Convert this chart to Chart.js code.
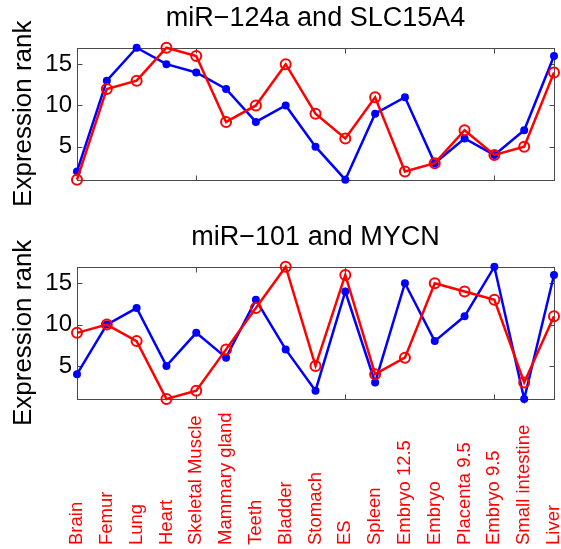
<!DOCTYPE html>
<html>
<head>
<meta charset="utf-8">
<script src="https://cdn.jsdelivr.net/npm/chart.js@4/dist/chart.umd.min.js"></script>
<style>
html, body { margin: 0; padding: 0; background: #fff; }
#wrap { position: relative; width: 561px; height: 549px; }
canvas { position: absolute; left: 0; }
</style>
</head>
<body>
<div id="wrap">
  <canvas id="topChart" width="561" height="219" style="top:0"></canvas>
  <canvas id="bottomChart" width="561" height="330" style="top:219px"></canvas>
</div>
<script>
// tissues along the x axis (positions 1..17)
const tissues = ['Brain', 'Femur', 'Lung', 'Heart', 'Skeletal Muscle', 'Mammary gland', 'Teeth',
    'Bladder', 'Stomach', 'ES', 'Spleen', 'Embryo 12.5', 'Embryo', 'Placenta 9.5', 'Embryo 9.5',
    'Small intestine', 'Liver'];

// expression ranks, blue = miRNA, red = target gene
const mir124aRank = [2, 13, 17, 15, 14, 12, 8, 10, 5, 1, 9, 11, 3, 6, 4, 7, 16];
const slc15a4Rank = [1, 12, 13, 17, 16, 8, 10, 15, 9, 6, 11, 2, 3, 7, 4, 5, 14];
const mir101Rank = [4, 10, 12, 5, 9, 6, 13, 7, 2, 14, 3, 15, 8, 11, 17, 1, 16];
const mycnRank = [9, 10, 8, 1, 2, 7, 12, 17, 5, 16, 4, 6, 15, 14, 13, 3, 11];

const yTicks = [5, 10, 15];
const xTicks = [5, 10, 15];

const FONT = '"Liberation Sans", Arial, Helvetica, sans-serif';
const BLUE = '#0000ff';
const RED = '#ff0000';

// matlab style box with inward ticks
const boxPlugin = {
    id: 'matlabBox',
    beforeDatasetsDraw(chart) {
        const {ctx, chartArea: a, scales: {x, y}} = chart;
        ctx.save();
        ctx.strokeStyle = '#4a4a4a';
        ctx.lineWidth = 1;
        const l = Math.round(a.left) + 0.5, r = Math.round(a.right) + 0.5;
        const t = Math.round(a.top) + 0.5, b = Math.round(a.bottom) + 0.5;
        ctx.strokeRect(l, t, r - l, b - t);
        ctx.beginPath();
        xTicks.forEach(v => {
            const px = Math.round(x.getPixelForValue(v)) + 0.5;
            ctx.moveTo(px, b); ctx.lineTo(px, b - 5);
            ctx.moveTo(px, t); ctx.lineTo(px, t + 5);
        });
        yTicks.forEach(v => {
            const py = Math.round(y.getPixelForValue(v)) + 0.5;
            ctx.moveTo(l, py); ctx.lineTo(l + 5, py);
            ctx.moveTo(r, py); ctx.lineTo(r - 5, py);
        });
        ctx.stroke();
        ctx.restore();
    }
};

// rotated red tissue names under the lower panel
const tissueLabels = {
    id: 'tissueLabels',
    afterDraw(chart) {
        const {ctx, scales: {x}} = chart;
        ctx.save();
        ctx.fillStyle = RED;
        ctx.font = '18.5px ' + FONT;
        ctx.textAlign = 'left';
        ctx.textBaseline = 'middle';
        tissues.forEach((name, i) => {
            ctx.save();
            ctx.translate(x.getPixelForValue(i + 1), chart.height - 4);
            ctx.rotate(-Math.PI / 2);
            ctx.fillText(name, 0, 0);
            ctx.restore();
        });
        ctx.restore();
    }
};

function rankChart(id, title, mirData, geneData, bottomPad, extra) {
    const toPoints = arr => arr.map((v, i) => ({x: i + 1, y: v}));
    return new Chart(document.getElementById(id), {
        type: 'line',
        data: {
            datasets: [
                {
                    label: 'gene',
                    data: toPoints(geneData),
                    borderColor: RED,
                    borderWidth: 2.5,
                    pointRadius: 5,
                    pointBorderWidth: 2,
                    pointBorderColor: RED,
                    pointBackgroundColor: 'rgba(0,0,0,0)',
                    tension: 0,
                    clip: false,
                    order: 0
                },
                {
                    label: 'miRNA',
                    data: toPoints(mirData),
                    borderColor: BLUE,
                    borderWidth: 2.5,
                    pointRadius: 4,
                    pointBorderWidth: 0,
                    pointBackgroundColor: BLUE,
                    tension: 0,
                    clip: false,
                    order: 1
                }
            ]
        },
        options: {
            responsive: false,
            animation: false,
            events: [],
            layout: {padding: {left: 0, right: 7, top: 0, bottom: bottomPad}},
            plugins: {
                legend: {display: false},
                tooltip: {enabled: false}
            },
            scales: {
                // x axis sits on top only to carry the panel title over the plot area
                x: {
                    type: 'linear',
                    position: 'top',
                    min: 1,
                    max: 17,
                    afterFit: s => { s.height = 47.7; },
                    grid: {display: false, drawTicks: false},
                    border: {display: false},
                    ticks: {display: false},
                    title: {
                        display: true,
                        text: title,
                        color: '#000',
                        font: {family: FONT, size: 27},
                        padding: {top: 2, bottom: 0}
                    }
                },
                y: {
                    min: 1,
                    max: 17,
                    afterBuildTicks: s => { s.ticks = yTicks.map(v => ({value: v})); },
                    afterFit: s => { s.width = 77; },
                    grid: {display: false, drawTicks: false},
                    border: {display: false},
                    ticks: {
                        color: '#000',
                        padding: 5,
                        font: {family: FONT, size: 24}
                    },
                    title: {
                        display: true,
                        text: 'Expression rank',
                        color: '#000',
                        font: {family: FONT, size: 26},
                        padding: {top: 8, bottom: 0}
                    }
                }
            }
        },
        plugins: [boxPlugin].concat(extra || [])
    });
}

rankChart('topChart', 'miR\u2212124a and SLC15A4', mir124aRank, slc15a4Rank, 219 - 179.7);
rankChart('bottomChart', 'miR\u2212101 and MYCN', mir101Rank, mycnRank, 330 - 180, [tissueLabels]);
</script>
</body>
</html>
